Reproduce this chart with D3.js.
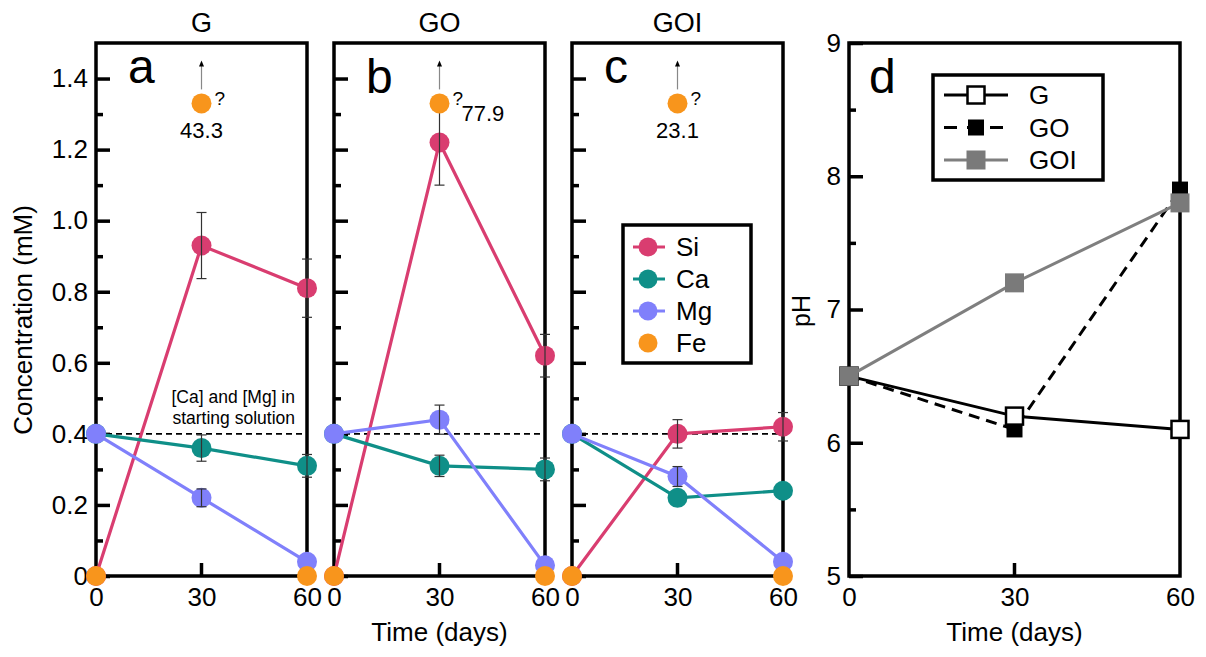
<!DOCTYPE html>
<html>
<head>
<meta charset="utf-8">
<script src="https://cdn.jsdelivr.net/npm/d3@7"></script>
<style>
body { margin: 0; background: #fff; }
text { font-family: "Liberation Sans", Arial, sans-serif; fill: #000; }
</style>
</head>
<body>
<svg id="chart" width="1206" height="657"></svg>
<script>
// time axis and panel names
var days = [0, 30, 60];
var panelNames = ["G", "GO", "GOI"];
var panelLetters = ["a", "b", "c"];

// concentrations (mM), one row per panel G / GO / GOI
var si = [[0, 0.93, 0.81], [0, 1.22, 0.62], [0, 0.40, 0.42]];
var siErr = [[0, 0.093, 0.082], [0, 0.12, 0.06], [0, 0.04, 0.04]];
var ca = [[0.40, 0.36, 0.31], [0.40, 0.31, 0.30], [0.40, 0.22, 0.24]];
var caErr = [[0, 0.037, 0.032], [0, 0.03, 0.032], [0, 0, 0]];
var mg = [[0.40, 0.22, 0.04], [0.40, 0.44, 0.03], [0.40, 0.28, 0.04]];
var mgErr = [[0, 0.025, 0], [0, 0.041, 0], [0, 0.028, 0]];
var fe = [[0, 1.33, 0], [0, 1.33, 0], [0, 1.33, 0]];
var feActual = ["43.3", "77.9", "23.1"];
var startLevel = 0.4;

var concTicks = [0, 0.2, 0.4, 0.6, 0.8, 1.0, 1.2, 1.4];
var concMinor = [0.1, 0.3, 0.5, 0.7, 0.9, 1.1, 1.3];

// pH panel
var phG = [6.5, 6.2, 6.1];
var phGO = [6.5, 6.1, 7.9];
var phGOI = [6.5, 7.2, 7.8];
var phTicks = [5, 6, 7, 8, 9];
var phMinor = [5.5, 6.5, 7.5, 8.5];

var elements = ["Si", "Ca", "Mg", "Fe"];
var colors = {Si: "#d93d70", Ca: "#0f8f88", Mg: "#8080fb", Fe: "#f8951c"};

var svg = d3.select("#chart");
var plotTop = 43, plotBottom = 576;
var panelLeft = [96, 334, 572];
var panelW = 211;

var y = d3.scaleLinear().domain([0, 1.5]).range([plotBottom, plotTop]);

function fmtConc(d) {
    return d === 0 ? "0" : d.toFixed(1);
}

function drawAxes(g, x, yy, major, minor, fmt, showLabels) {
    var w = x.range()[1] - x.range()[0];
    g.append("rect")
        .attr("x", 0).attr("y", yy.range()[1])
        .attr("width", w).attr("height", yy.range()[0] - yy.range()[1])
        .attr("fill", "none").attr("stroke", "#000").attr("stroke-width", 3.5);

    var ax = g.append("g").call(d3.axisLeft(yy).tickValues(major).tickSize(-14).tickPadding(8)
        .tickFormat(showLabels ? fmt : ""));
    ax.select(".domain").remove();
    ax.selectAll("line").attr("stroke-width", 3.5);
    ax.selectAll("text").style("font-size", "26px").attr("fill", "#000");

    var axm = g.append("g").call(d3.axisLeft(yy).tickValues(minor).tickSize(-7).tickFormat(""));
    axm.select(".domain").remove();
    axm.selectAll("line").attr("stroke-width", 3.5);

    var bx = g.append("g").attr("transform", "translate(0," + yy.range()[0] + ")")
        .call(d3.axisBottom(x).tickValues(days).tickSize(0).tickPadding(12).tickFormat(d3.format("d")));
    bx.select(".domain").remove();
    bx.selectAll("text").style("font-size", "26px").attr("fill", "#000");

    g.append("line")
        .attr("x1", x(30)).attr("x2", x(30))
        .attr("y1", yy.range()[0]).attr("y2", yy.range()[0] - 13)
        .attr("stroke", "#000").attr("stroke-width", 3.5);
}

function letterBase(l) {
    return /[bd]/.test(l) ? 93 : 83;
}

panelNames.forEach(function (name, p) {
    var g = svg.append("g").attr("transform", "translate(" + panelLeft[p] + ",0)");
    var x = d3.scaleLinear().domain([0, 60]).range([0, panelW]);

    drawAxes(g, x, y, concTicks, concMinor, fmtConc, p === 0);

    g.append("text").attr("x", panelW / 2).attr("y", 32)
        .attr("text-anchor", "middle").style("font-size", "27px").text(name);
    g.append("text").attr("x", 32).attr("y", letterBase(panelLetters[p]))
        .style("font-size", "48px").text(panelLetters[p]);

    // starting solution level
    g.append("line")
        .attr("x1", 0).attr("x2", panelW)
        .attr("y1", y(startLevel)).attr("y2", y(startLevel))
        .attr("stroke", "#000").attr("stroke-width", 1.6).attr("stroke-dasharray", "6,4");

    if (p === 0) {
        var note = g.append("text").attr("text-anchor", "end").style("font-size", "17.5px");
        note.append("tspan").attr("x", x(60) - 12).attr("y", 403).text("[Ca] and [Mg] in");
        note.append("tspan").attr("x", x(60) - 12).attr("y", 424).text("starting solution");
    }

    var series = {Si: [si[p], siErr[p]], Ca: [ca[p], caErr[p]], Mg: [mg[p], mgErr[p]], Fe: [fe[p], null]};
    var line = d3.line().x(function (d, i) { return x(days[i]); }).y(function (d) { return y(d); });

    elements.forEach(function (el) {
        var vals = series[el][0], errs = series[el][1];
        if (el !== "Fe") {
            g.append("path").datum(vals).attr("d", line)
                .attr("fill", "none").attr("stroke", colors[el]).attr("stroke-width", 3.2);
        }
        g.selectAll(".pt-" + el).data(vals).enter().append("circle")
            .attr("cx", function (d, i) { return x(days[i]); })
            .attr("cy", function (d) { return y(d); })
            .attr("r", 10).attr("fill", colors[el]);
        if (errs) {
            vals.forEach(function (v, i) {
                if (!errs[i]) return;
                var eb = g.append("g").attr("stroke", "#333").attr("stroke-width", 1.2);
                var cx = x(days[i]);
                eb.append("line").attr("x1", cx).attr("x2", cx)
                    .attr("y1", y(v - errs[i])).attr("y2", y(v + errs[i]));
                [v - errs[i], v + errs[i]].forEach(function (e) {
                    eb.append("line").attr("x1", cx - 5).attr("x2", cx + 5)
                        .attr("y1", y(e)).attr("y2", y(e));
                });
            });
        }
    });

    // Fe off-scale marker
    var fx = x(30), fy = y(fe[p][1]);
    g.append("line").attr("x1", fx).attr("x2", fx).attr("y1", fy - 14).attr("y2", fy - 38)
        .attr("stroke", "#888").attr("stroke-width", 1.2);
    g.append("path").attr("d", "M" + (fx - 2.5) + "," + (fy - 37) + "L" + fx + "," + (fy - 43) + "L" + (fx + 2.5) + "," + (fy - 37) + "Z")
        .attr("fill", "#000");
    g.append("text").attr("x", fx + 13).attr("y", fy + 2).style("font-size", "19px").text("?");
    if (p === 1) {
        g.append("text").attr("x", fx + 22).attr("y", fy + 18).style("font-size", "22px").text(feActual[p]);
    } else {
        g.append("text").attr("x", fx).attr("y", fy + 35).attr("text-anchor", "middle")
            .style("font-size", "22px").text(feActual[p]);
    }
});

// concentration legend in panel c
var leg = svg.append("g").attr("transform", "translate(623,225)");
leg.append("rect").attr("width", 128).attr("height", 138)
    .attr("fill", "#fff").attr("stroke", "#000").attr("stroke-width", 3.5);
elements.forEach(function (el, i) {
    var ly = 22 + i * 32;
    if (el !== "Fe") {
        leg.append("line").attr("x1", 10).attr("x2", 42).attr("y1", ly).attr("y2", ly)
            .attr("stroke", colors[el]).attr("stroke-width", 3);
    }
    leg.append("circle").attr("cx", 25).attr("cy", ly).attr("r", 9.5).attr("fill", colors[el]);
    leg.append("text").attr("x", 53).attr("y", ly + 9).style("font-size", "26px").text(el);
});

svg.append("text").attr("transform", "translate(32,320) rotate(-90)")
    .attr("text-anchor", "middle").style("font-size", "26px").text("Concentration (mM)");
svg.append("text").attr("x", panelLeft[1] + panelW / 2).attr("y", 641)
    .attr("text-anchor", "middle").style("font-size", "26px").text("Time (days)");

// pH panel
var pLeft = 849, pW = 331;
var gp = svg.append("g").attr("transform", "translate(" + pLeft + ",0)");
var xp = d3.scaleLinear().domain([0, 60]).range([0, pW]);
var yp = d3.scaleLinear().domain([5, 9]).range([plotBottom, plotTop]);
drawAxes(gp, xp, yp, phTicks, phMinor, d3.format("d"), true);
gp.append("text").attr("x", 20).attr("y", letterBase("d")).style("font-size", "48px").text("d");

var phSeries = [
    {name: "GO", vals: phGO, stroke: "#000", dash: "11,7", fill: "#000", mstroke: "none", size: 16},
    {name: "G", vals: phG, stroke: "#000", dash: null, fill: "#fff", mstroke: "#000", size: 17},
    {name: "GOI", vals: phGOI, stroke: "#7f7f7f", dash: null, fill: "#7a7a7a", mstroke: "none", size: 19}
];
var pline = d3.line().x(function (d, i) { return xp(days[i]); }).y(function (d) { return yp(d); });
phSeries.forEach(function (s) {
    gp.append("path").datum(s.vals).attr("d", pline)
        .attr("fill", "none").attr("stroke", s.stroke).attr("stroke-width", 3)
        .attr("stroke-dasharray", s.dash);
    gp.selectAll(".sq-" + s.name).data(s.vals).enter().append("rect")
        .attr("x", function (d, i) { return xp(days[i]) - s.size / 2; })
        .attr("y", function (d) { return yp(d) - s.size / 2; })
        .attr("width", s.size).attr("height", s.size)
        .attr("fill", s.fill).attr("stroke", s.mstroke).attr("stroke-width", 2.5);
});

var pleg = svg.append("g").attr("transform", "translate(933,75)");
pleg.append("rect").attr("width", 170).attr("height", 105)
    .attr("fill", "#fff").attr("stroke", "#000").attr("stroke-width", 3.5);
["G", "GO", "GOI"].forEach(function (n, i) {
    var s = phSeries.filter(function (d) { return d.name === n; })[0];
    var ly = 20 + i * 32.5;
    pleg.append("line").attr("x1", 11).attr("x2", 75).attr("y1", ly).attr("y2", ly)
        .attr("stroke", s.stroke).attr("stroke-width", 3)
        .attr("stroke-dasharray", s.dash ? "13,10" : null);
    pleg.append("rect").attr("x", 43 - s.size / 2).attr("y", ly - s.size / 2)
        .attr("width", s.size).attr("height", s.size)
        .attr("fill", s.fill).attr("stroke", s.mstroke).attr("stroke-width", 2.5);
    pleg.append("text").attr("x", 96).attr("y", ly + 9).style("font-size", "26px").text(n);
});

svg.append("text").attr("transform", "translate(810,311) rotate(-90)")
    .attr("text-anchor", "middle").style("font-size", "25px").text("pH");
svg.append("text").attr("x", pLeft + pW / 2).attr("y", 641)
    .attr("text-anchor", "middle").style("font-size", "26px").text("Time (days)");
</script>
</body>
</html>
